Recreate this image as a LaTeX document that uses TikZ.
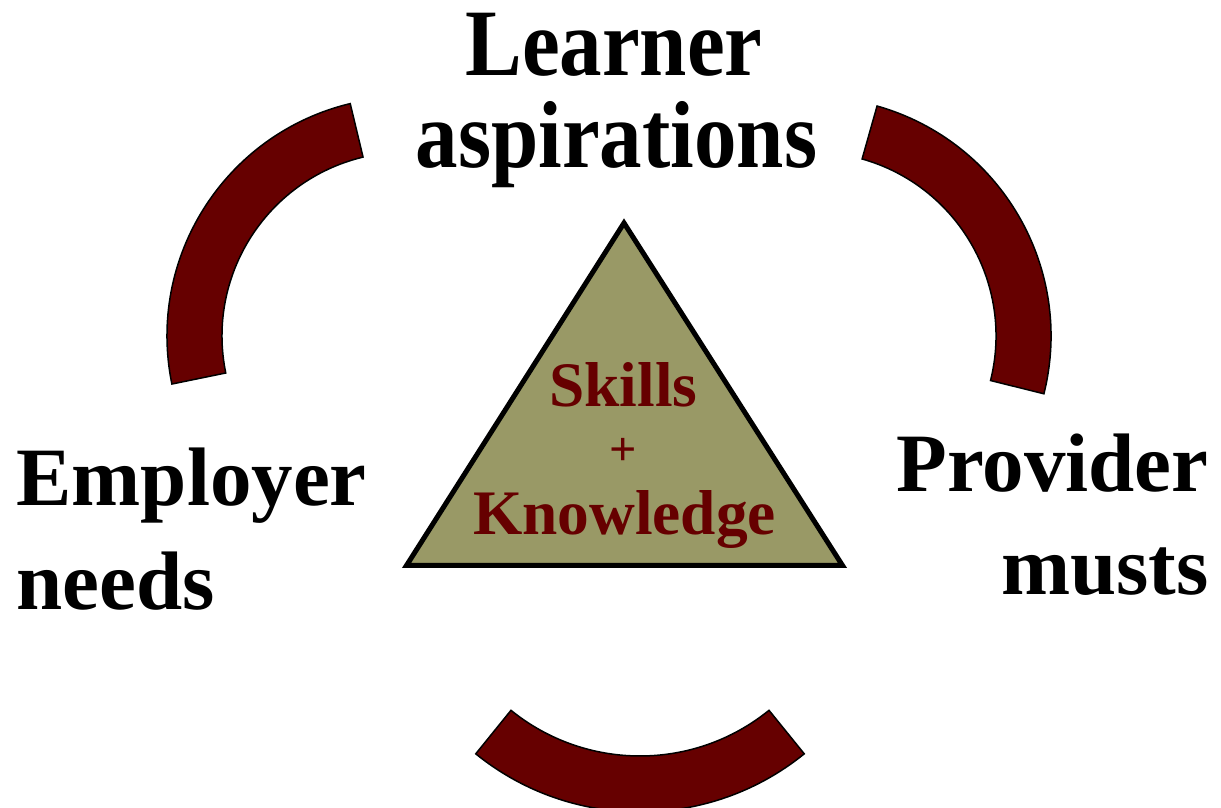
\documentclass[tikz,border=0pt]{standalone}
\usepackage{fontspec}
\setmainfont{Liberation Serif}
\definecolor{arcred}{RGB}{102,0,0}
\definecolor{olive}{RGB}{153,153,102}
\tikzset{
  blockarc/.style={fill=arcred, draw=black, line width=0.75pt, line join=miter},
  tri/.style={fill=olive, draw=black, line width=2.5pt, line join=miter},
  biglabel/.style={inner sep=0pt, font=\fontsize{41.5}{41.5}\selectfont\bfseries, text=black},
  toplabel/.style={inner sep=0pt, font=\fontsize{42.5}{42.5}\selectfont\bfseries, text=black},
  innerlabel/.style={inner sep=0pt, font=\fontsize{31.7}{31.7}\selectfont\bfseries, text=arcred},
  pluslabel/.style={inner sep=0pt, font=\fontsize{24}{24}\selectfont\bfseries, text=arcred}
}
\begin{document}
\begin{tikzpicture}[x=0.5pt,y=0.5pt]
\useasboundingbox (0,0) rectangle (1221,808);
\clip (0,0) rectangle (1221,808);
% arcs
\coordinate (cl) at (406,472);
\coordinate (cr) at (812,472);
\coordinate (cb) at (640,257);
\draw[blockarc] ([shift={(103.5:239)}]cl) arc[start angle=103.5,end angle=191.6,radius=239]
  -- ([shift={(191.6:184)}]cl) arc[start angle=191.6,end angle=103.5,radius=184] -- cycle;
\draw[blockarc] ([shift={(-14:239)}]cr) arc[start angle=-14,end angle=74.2,radius=239]
  -- ([shift={(74.2:184)}]cr) arc[start angle=74.2,end angle=-14,radius=184] -- cycle;
\draw[blockarc] ([shift={(231:261)}]cb) arc[start angle=231,end angle=309,radius=261]
  -- ([shift={(309:205)}]cb) arc[start angle=309,end angle=231,radius=205] -- cycle;
% triangle
\coordinate (tA) at (624,585);
\coordinate (tB) at (406.5,242.5);
\coordinate (tC) at (842.5,242.5);
\draw[tri] (tA) -- (tB) -- (tC) -- cycle;
% labels
\node[toplabel, anchor=base] (learner1) at (614,732) {\scalebox{1}[1.12]{Learner}};
\node[toplabel, anchor=base] (learner2) at (616.5,640) {\scalebox{1}[1.12]{aspirations}};
\node[biglabel, anchor=base west] (employer1) at (16,302) {Employer};
\node[biglabel, anchor=base west] (employer2) at (16,198) {needs};
\node[biglabel, anchor=base east] (provider1) at (1209,316) {Provider};
\node[biglabel, anchor=base east] (provider2) at (1209,213) {musts};
\node[innerlabel, anchor=base] (skills) at (623.5,401) {Skills};
\node[pluslabel] (plus) at (623,356) {+};
\node[innerlabel, anchor=base] (knowledge) at (624.5,273) {Knowledge};
\end{tikzpicture}
\end{document}
